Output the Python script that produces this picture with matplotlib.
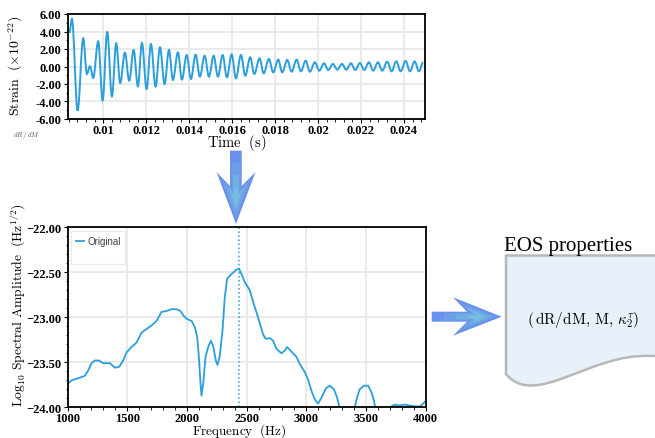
import numpy as np
import matplotlib
matplotlib.use("Agg")
import matplotlib.pyplot as plt
from matplotlib.patches import Polygon, PathPatch
from matplotlib.path import Path
from matplotlib.ticker import AutoMinorLocator

plt.rcParams["mathtext.fontset"] = "cm"
plt.rcParams["axes.unicode_minus"] = False

# -----------------------------
# Data
# -----------------------------
# strain waveform: successive peaks / troughs (time in ms, strain in 1e-22)
strain_t_ms = [8.42, 8.543, 8.808, 9.069, 9.241, 9.381, 9.534, 9.767, 9.972, 10.186,
               10.405, 10.605, 10.791, 11.010, 11.210, 11.415, 11.615, 11.802, 12.020, 12.221,
               12.439, 12.640, 12.858, 13.059, 13.245, 13.478, 13.664, 13.883, 14.083, 14.301,
               14.502, 14.721, 14.921, 15.140, 15.340, 15.559, 15.759, 15.978, 16.178, 16.411,
               16.611, 16.844, 17.030, 17.281, 17.467, 17.714, 17.914, 18.147, 18.333, 18.566,
               18.771, 19.004, 19.204, 19.423, 19.623, 19.856, 20.056, 20.275, 20.475, 20.694,
               20.894, 21.113, 21.313, 21.532, 21.732, 21.951, 22.151, 22.370, 22.570, 22.789,
               22.989, 23.222, 23.427, 23.641, 23.846, 24.078, 24.278, 24.497, 24.698, 24.898]
strain_val = [3.83, 5.43, -5.05, 3.22, -0.86, 0.02, -1.31, 2.88, -3.87, 3.98,
              -3.41, 2.65, -1.89, 1.58, -1.62, 1.89, -2.27, 2.69, -2.57, 2.57,
              -2.30, 2.19, -2.00, 1.89, -1.54, 1.62, -1.50, 1.30, -1.43, 1.35,
              -1.16, 1.23, -1.16, 1.23, -1.16, 1.31, -1.24, 1.39, -1.35, 1.31,
              -1.05, 1.05, -0.86, 0.93, -0.78, 0.86, -0.67, 0.78, -0.67, 0.74,
              -0.59, 0.78, -0.55, 0.66, -0.59, 0.48, -0.48, 0.36, -0.40, 0.29,
              -0.36, 0.29, -0.36, 0.36, -0.40, 0.40, -0.40, 0.48, -0.48, 0.48,
              -0.48, 0.55, -0.55, 0.59, -0.55, 0.63, -0.55, 0.59, -0.55, 0.48]
strain_ticks = [6, 4, 2, 0, -2, -4, -6]
time_ticks = [0.01, 0.012, 0.014, 0.016, 0.018, 0.02, 0.022, 0.024]

# log10 spectral amplitude
freq = [1000, 1035, 1103, 1145, 1173, 1201, 1229, 1262, 1298, 1355,
        1396, 1432, 1466, 1494, 1536, 1578, 1620, 1662, 1704, 1746,
        1787, 1829, 1871, 1913, 1946, 1970, 2002, 2039, 2066, 2086,
        2100, 2114, 2122, 2136, 2156, 2178, 2200, 2220, 2242, 2256,
        2275, 2298, 2317, 2337, 2373, 2415, 2437, 2457, 2485, 2527,
        2560, 2605, 2638, 2661, 2694, 2722, 2750, 2792, 2820, 2839,
        2868, 2918, 2946, 2988, 3015, 3044, 3071, 3099, 3128, 3164,
        3197, 3231, 3258, 3275, 3300, 3340, 3380, 3406, 3426, 3448,
        3482, 3518, 3546, 3566, 3580, 3620, 3670, 3714, 3742, 3784,
        3826, 3868, 3910, 3952, 3980, 4000]
log_amp = [-23.74, -23.70, -23.67, -23.65, -23.59, -23.51, -23.48, -23.48, -23.51, -23.51,
           -23.56, -23.55, -23.48, -23.39, -23.33, -23.28, -23.17, -23.13, -23.09, -23.04,
           -22.94, -22.93, -22.91, -22.91, -22.93, -22.98, -23.02, -23.04, -23.11, -23.22,
           -23.44, -23.74, -23.87, -23.74, -23.44, -23.33, -23.26, -23.32, -23.48, -23.53,
           -23.43, -23.15, -22.78, -22.57, -22.52, -22.47, -22.46, -22.52, -22.61, -22.70,
           -22.85, -23.04, -23.19, -23.24, -23.23, -23.26, -23.35, -23.40, -23.37, -23.33,
           -23.37, -23.44, -23.52, -23.61, -23.69, -23.82, -23.91, -23.96, -23.89, -23.79,
           -23.76, -23.80, -23.89, -23.98, -24.12, -24.25, -24.15, -24.00, -23.89, -23.80,
           -23.76, -23.76, -23.83, -23.92, -24.02, -24.20, -24.15, -23.99, -23.97, -23.98,
           -23.97, -23.98, -23.99, -23.99, -23.96, -23.93]
peak_freq = 2437
amp_ticks = [-22.0, -22.5, -23.0, -23.5, -24.0]
freq_ticks = [1000, 1500, 2000, 2500, 3000, 3500, 4000]

line_color = "#2b9fda"
tick_font = {"family": "Liberation Serif", "weight": "bold", "size": 9}


def style_axes(ax):
    for s in ax.spines.values():
        s.set_linewidth(1.3)
        s.set_color("black")
    ax.grid(True, color="#e8e8e8", linewidth=1.3)
    ax.set_axisbelow(True)
    ax.tick_params(which="major", length=3, width=0.8, pad=1.5)
    ax.tick_params(axis="x", which="major", pad=0.5)
    ax.tick_params(which="minor", length=1.8, width=0.6)
    for lab in ax.get_xticklabels() + ax.get_yticklabels():
        lab.set_fontproperties(matplotlib.font_manager.FontProperties(**tick_font))


def extrema_path(xs, ys, k=0.36):
    # smooth cubic segments between successive extrema (flat tangent at each one)
    verts = [(xs[0], ys[0])]
    codes = [Path.MOVETO]
    for i in range(len(xs) - 1):
        dx = xs[i + 1] - xs[i]
        verts += [(xs[i] + k * dx, ys[i]), (xs[i + 1] - k * dx, ys[i + 1]),
                  (xs[i + 1], ys[i + 1])]
        codes += [Path.CURVE4] * 3
    return Path(verts, codes)


fig = plt.figure(figsize=(6.55, 4.39), dpi=100)

# -----------------------------
# Strain vs time
# -----------------------------
ax1 = fig.add_axes([68 / 655, 1 - 120 / 439, 357 / 655, 105 / 439])
t_s = np.array(strain_t_ms) / 1000
ax1.add_patch(PathPatch(extrema_path(t_s, strain_val), fill=False,
                        edgecolor=line_color, linewidth=1.4))
ax1.set_xlim(0.00836, 0.02498)
ax1.set_ylim(-6, 6)
ax1.set_xticks(time_ticks)
ax1.set_xticklabels([f"{t:g}" for t in time_ticks])
ax1.set_yticks(strain_ticks)
ax1.set_yticklabels([f"{v:.2f}" for v in strain_ticks])
ax1.xaxis.set_minor_locator(AutoMinorLocator(5))
ax1.yaxis.set_minor_locator(AutoMinorLocator(2))
style_axes(ax1)
ax1.set_xlabel(r"$\mathrm{Time}\ \ (\mathrm{s})$", fontsize=10.5, va="center")
ax1.xaxis.set_label_coords(0.473, -0.215)
ax1.set_ylabel(r"$\mathrm{Strain}\ \ (\times 10^{-22})$", fontsize=10)
ax1.yaxis.set_label_coords(-0.12, 0.514)
fig.text(13 / 655, 1 - 137 / 439, r"$dR\,/\,dM$", fontsize=5, color="#444444")

# -----------------------------
# Spectrum
# -----------------------------
ax2 = fig.add_axes([67.6 / 655, 1 - 408.3 / 439, 358 / 655, 180 / 439])
ax2.plot(freq, log_amp, color=line_color, linewidth=1.3, label="Original")
ax2.plot([], [], " ", label=" ")
ax2.axvline(peak_freq, color=line_color, linestyle=":", linewidth=1.1)
ax2.set_xlim(1000, 4000)
ax2.set_ylim(-24, -22)
ax2.set_xticks(freq_ticks)
ax2.set_yticks(amp_ticks)
ax2.set_yticklabels([f"{v:.2f}".replace("-", "\u2212") for v in amp_ticks])
ax2.xaxis.set_minor_locator(AutoMinorLocator(5))
ax2.yaxis.set_minor_locator(AutoMinorLocator(5))
style_axes(ax2)
ax2.set_xlabel(r"$\mathrm{Frequency}\ \ (\mathrm{Hz})$", fontsize=9.5, va="center")
ax2.xaxis.set_label_coords(0.48, -0.125)
ax2.set_ylabel(r"$\mathrm{Log}_{10}\ \mathrm{Spectral\ Amplitude}\ \ (\mathrm{Hz}^{1/2})$",
               fontsize=9.8)
ax2.yaxis.set_label_coords(-0.112, 0.574)
leg = ax2.legend(loc="upper left", prop={"family": "Liberation Sans", "size": 7},
                 handlelength=0.8, handletextpad=0.3, borderpad=0.5, labelspacing=0.3,
                 borderaxespad=0.4, fancybox=False, frameon=True)
leg.get_frame().set_edgecolor("#e4e4e4")
leg.get_frame().set_linewidth(0.8)
for t in leg.get_texts():
    t.set_color("#444444")

# -----------------------------
# Arrows and EOS box (pixel coordinates)
# -----------------------------
ov = fig.add_axes([0, 0, 1, 1], zorder=-1)
ov.set_xlim(0, 655)
ov.set_ylim(439, 0)
ov.axis("off")


def arrow_layers(pts, center):
    pts = np.array(pts, dtype=float)
    c = np.array(center, dtype=float)
    for scale, col in [(1.0, "#6a90ee"), (0.75, "#6c9fe8"), (0.5, "#70b0e2"), (0.25, "#78bde0")]:
        ov.add_patch(Polygon(c + (pts - c) * scale, closed=True, facecolor=col,
                             edgecolor="none"))


# down arrow between the panels
arrow_layers([(230, 151.7), (241.7, 151.7), (241.7, 187), (255.5, 173), (236, 225),
              (216.5, 173), (230, 187)], (236, 200))
# right arrow towards the EOS box
arrow_layers([(431.7, 312.7), (467, 312.7), (453, 298.3), (501.7, 317.7), (453, 336.7),
              (467, 322.7), (431.7, 322.7)], (480, 317.7))

doc = Path([(506, 256.5), (700, 256.5), (700, 356), (650, 357),
            (590, 354), (535, 410), (506, 375), (506, 256.5)],
           [Path.MOVETO, Path.LINETO, Path.LINETO, Path.LINETO,
            Path.CURVE4, Path.CURVE4, Path.CURVE4, Path.CLOSEPOLY])
ov.add_patch(PathPatch(doc, facecolor="#e8f0fa", edgecolor="#b8b8b8", linewidth=1.8))
ov.text(504, 251, "EOS properties", family="Liberation Serif", fontsize=15,
        ha="left", va="baseline", color="black")
ov.text(583, 320, r"$(\,\mathrm{dR/dM},\,\mathrm{M},\,\kappa_2^{\tau})$", fontsize=11,
        ha="center", va="center")

fig.savefig("out.png", dpi=100)
